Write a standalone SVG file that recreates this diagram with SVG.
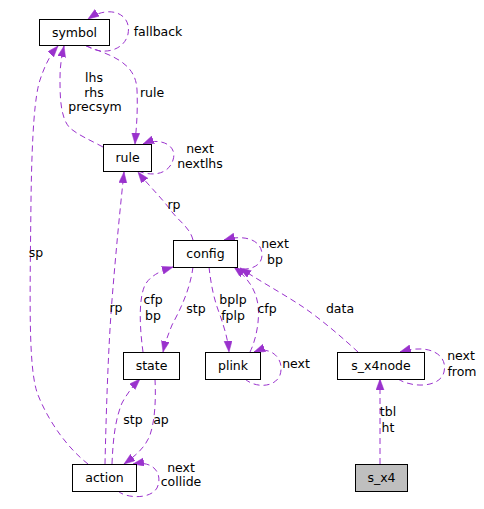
<svg xmlns="http://www.w3.org/2000/svg" width="484" height="509" viewBox="0 0 484 509">
<style>
.n rect{fill:#fff;stroke:#000;stroke-width:1}
text{font-family:"DejaVu Sans",sans-serif;font-size:12.5px;fill:#000}
.nt{text-anchor:middle}
.e path{fill:none;stroke:#9a32cd;stroke-width:1;stroke-dasharray:6,4;marker-end:url(#ah)}
.l text{text-anchor:middle}
</style>
<defs>
<marker id="ah" markerUnits="userSpaceOnUse" markerWidth="12" markerHeight="9" refX="11" refY="4" orient="auto" viewBox="0 0 12 9">
<path d="M0,0 L11,4 L0,8 z" fill="#9a32cd" stroke="#9a32cd" stroke-width="0.5"/>
</marker>
</defs>
<rect width="484" height="509" fill="#fff"/>
<g id="connectors" class="e">
<path d="M86,45 C100,56 124,52 128,34 C132,14 110,4 88,19"/>
<path d="M86,46 C110,55 136,62 137,90 C138,115 136,130 135,144"/>
<path d="M103,147 C90,140 78,135 70,128 C60,118 60,95 60,78 C60,65 62,55 64,46"/>
<path d="M88,464 C70,450 50,425 38,395 C28,370 30,300 31,200 C32,130 35,95 40,80 C45,65 50,55 58,46"/>
<path d="M138,171 C150,176 168,176 173,160 C178,145 160,137 143,144"/>
<path d="M193,240 C190,228 180,222 172,212 C162,198 148,185 138,172"/>
<path d="M233,267 C245,272 262,268 262,255 C262,240 245,234 224,240"/>
<path d="M143,352 C140,330 138,300 145,285 C150,276 160,271 173,267"/>
<path d="M193,267 C190,290 180,310 172,325 C168,335 165,343 163,352"/>
<path d="M209,267 C211,285 214,300 220,315 C225,330 228,340 229,352"/>
<path d="M250,352 C256,340 260,320 258,305 C256,290 248,278 234,267"/>
<path d="M245,379 C255,388 275,388 280,375 C285,360 272,345 254,352"/>
<path d="M358,352 C345,340 320,318 300,305 C280,292 258,280 240,268"/>
<path d="M398,379 C412,388 440,388 444,372 C448,355 430,343 400,352"/>
<path d="M380,464 L380,379"/>
<path d="M105,464 C106,420 108,350 112,300 C116,250 120,210 124,172"/>
<path d="M112,464 C113,440 115,420 122,403 C128,392 134,385 140,379"/>
<path d="M155,379 C156,400 155,420 150,435 C145,448 135,456 124,464"/>
<path d="M118,491 C125,498 150,500 157,488 C163,475 155,460 133,464"/>
</g>
<g id="labels" class="l">
<text x="158" y="36">fallback</text>
<text x="152" y="97">rule</text>
<text x="94" y="82">lhs</text>
<text x="94" y="97">rhs</text>
<text x="95" y="111">precsym</text>
<text x="200" y="153">next</text>
<text x="200" y="168">nextlhs</text>
<text x="174" y="209">rp</text>
<text x="275" y="248">next</text>
<text x="275" y="264">bp</text>
<text x="153" y="304">cfp</text>
<text x="153" y="320">bp</text>
<text x="196" y="313">stp</text>
<text x="233" y="304">bplp</text>
<text x="233" y="320">fplp</text>
<text x="267" y="313">cfp</text>
<text x="340" y="313">data</text>
<text x="296" y="368">next</text>
<text x="461" y="360">next</text>
<text x="462" y="376">from</text>
<text x="388" y="416">tbl</text>
<text x="388" y="432">ht</text>
<text x="36" y="257">sp</text>
<text x="116" y="312">rp</text>
<text x="133" y="424">stp</text>
<text x="161" y="424">ap</text>
<text x="181" y="472">next</text>
<text x="181" y="486">collide</text>
</g>
<g id="symbol" class="n"><rect x="39.5" y="19.5" width="70" height="26"/><text class="nt" x="74.5" y="37">symbol</text></g>
<g id="rule" class="n"><rect x="103.5" y="144.5" width="48" height="27"/><text class="nt" x="127.5" y="162">rule</text></g>
<g id="config" class="n"><rect x="173.5" y="240.5" width="64" height="27"/><text class="nt" x="205.5" y="258">config</text></g>
<g id="state" class="n"><rect x="123.5" y="352.5" width="56" height="27"/><text class="nt" x="151.5" y="370">state</text></g>
<g id="plink" class="n"><rect x="205.5" y="352.5" width="55" height="27"/><text class="nt" x="233" y="370">plink</text></g>
<g id="s_x4node" class="n"><rect x="337.5" y="352.5" width="87" height="27"/><text class="nt" x="381" y="370">s_x4node</text></g>
<g id="action" class="n"><rect x="72.5" y="464.5" width="64" height="27"/><text class="nt" x="104.5" y="482">action</text></g>
<g id="s_x4" class="n"><rect x="355.5" y="464.5" width="52" height="27" style="fill:#bfbfbf"/><text class="nt" x="381.5" y="482">s_x4</text></g>
</svg>
